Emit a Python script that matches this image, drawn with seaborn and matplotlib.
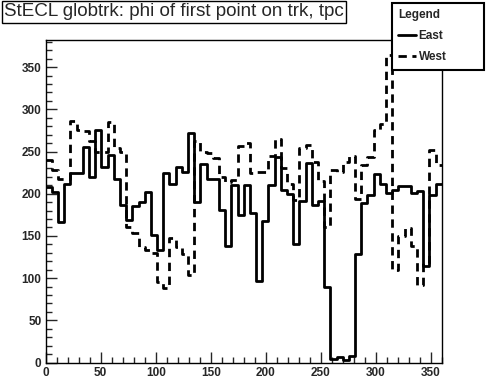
import numpy as np
import pandas as pd
import seaborn as sns
import matplotlib
matplotlib.use("Agg")
import matplotlib.pyplot as plt
from matplotlib.lines import Line2D

# histogram binning: 64 bins over 0..360 deg
n_bins = 64
phi_range = (0, 360)

# bin contents
east = [208, 202, 167, 212, 224, 224, 255, 220, 276, 232,
        246, 218, 187, 169, 186, 190, 202, 151, 133, 224,
        211, 232, 226, 272, 190, 235, 217, 217, 181, 138,
        210, 175, 210, 177, 96, 168, 210, 244, 204, 200,
        141, 191, 236, 187, 191, 90, 4, 6, 3, 8,
        128, 189, 199, 223, 211, 201, 205, 209, 209, 201,
        203, 114, 199, 212]
west = [240, 228, 218, 218, 286, 276, 274, 262, 250, 250,
        285, 254, 249, 161, 153, 137, 133, 130, 95, 88,
        147, 137, 128, 104, 262, 250, 248, 242, 220, 214,
        216, 257, 260, 224, 226, 226, 245, 265, 230, 212,
        193, 254, 258, 238, 215, 160, 228, 226, 238, 245,
        194, 234, 243, 275, 283, 364, 110, 150, 159, 138,
        92, 118, 252, 234]

title = "StECL globtrk: phi of first point on trk, tpc"
x_ticks = [0, 50, 100, 150, 200, 250, 300, 350]
y_ticks = [0, 50, 100, 150, 200, 250, 300, 350]

width = (phi_range[1] - phi_range[0]) / n_bins
centers = phi_range[0] + (np.arange(n_bins) + 0.5) * width
df = pd.DataFrame({
    "phi": np.concatenate([centers, centers]),
    "count": east + west,
    "side": ["East"] * n_bins + ["West"] * n_bins,
})

sns.set_style("ticks")
plt.rcParams["font.family"] = ["Liberation Sans", "DejaVu Sans"]

fig = plt.figure(figsize=(4.86, 3.79), dpi=100)
ax = fig.add_axes([45.7 / 486, 1 - 362.5 / 379, 396 / 486, 322.5 / 379])

styles = {"East": "-", "West": (0, (3, 2))}
for side, ls in styles.items():
    sns.histplot(data=df[df.side == side], x="phi", weights="count",
                 bins=n_bins, binrange=phi_range, element="step", fill=False,
                 color="black", linewidth=2, linestyle=ls, ax=ax)

ax.set_xlim(*phi_range)
ax.set_ylim(0, 1.05 * max(max(east), max(west)))
ax.set_xlabel("")
ax.set_ylabel("")
ax.set_xticks(x_ticks)
ax.set_yticks(y_ticks)
ax.set_xticks(np.arange(0, 361, 10), minor=True)
ax.set_yticks(np.arange(0, 381, 10), minor=True)
ax.tick_params(which="major", direction="in", length=8, width=1, pad=3,
               labelsize=8.5)
ax.tick_params(which="minor", direction="in", length=4, width=1)
for lab in ax.get_xticklabels() + ax.get_yticklabels():
    lab.set_fontweight("bold")
for sp in ax.spines.values():
    sp.set_linewidth(1)
    sp.set_color("black")

fig.text(4 / 486, 1 - 12 / 379, title, ha="left", va="center", fontsize=13.6,
         bbox=dict(boxstyle="square,pad=0.12", fc="white", ec="black", lw=1))

handles = [Line2D([], [], color="black", lw=2, ls=styles["East"]),
           Line2D([], [], color="black", lw=2, ls=styles["West"])]
leg = fig.legend(handles, ["East", "West"], title="Legend",
                 loc="upper left",
                 bbox_to_anchor=(392 / 486, 1 - 3 / 379, 92 / 486, 0),
                 mode="expand", alignment="left",
                 prop={"weight": "bold", "size": 8.5},
                 title_fontproperties={"weight": "bold", "size": 8.5},
                 frameon=True, fancybox=False, edgecolor="black",
                 framealpha=1, handlelength=1.5, handletextpad=0.2,
                 borderpad=0.55, labelspacing=0.75, borderaxespad=0)
leg.get_frame().set_linewidth(1.5)

fig.savefig("out.png", dpi=100)
